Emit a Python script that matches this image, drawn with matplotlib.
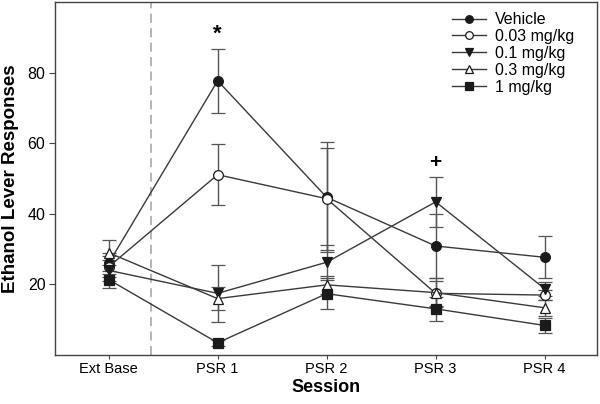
"""Ethanol lever responses across sessions by dose."""

import matplotlib

matplotlib.use("Agg")
import matplotlib.pyplot as plt
from matplotlib.lines import Line2D

plt.rcParams["font.family"] = ["Liberation Sans", "DejaVu Sans"]

SESSIONS = ["Ext Base", "PSR 1", "PSR 2", "PSR 3", "PSR 4"]
GROUPS = ["Vehicle", "0.03 mg/kg", "0.1 mg/kg", "0.3 mg/kg", "1 mg/kg"]

VEHICLE = [26.0, 77.7, 44.7, 30.9, 27.7]
VEHICLE_ERR = [3.0, 9.0, 15.6, 9.0, 6.0]
DOSE_003 = [25.0, 51.1, 44.3, 17.5, 17.0]
DOSE_003_ERR = [3.0, 8.6, 14.4, 3.5, 1.5]
DOSE_01 = [24.0, 17.5, 26.3, 43.4, 18.8]
DOSE_01_ERR = [3.0, 8.0, 5.0, 7.0, 2.0]
DOSE_03 = [29.0, 16.0, 19.9, 17.7, 13.4]
DOSE_03_ERR = [3.5, 3.2, 2.5, 4.0, 2.3]
DOSE_1 = [21.4, 3.5, 17.4, 13.1, 8.4]
DOSE_1_ERR = [2.5, 0.8, 4.3, 3.5, 2.0]

MARKERS = ["o", "o", "v", "^", "s"]
FACES = ["#1a1a1a", "white", "#1a1a1a", "white", "#1a1a1a"]


def main() -> None:
    fig = plt.figure(figsize=(6.0, 4.04), dpi=100)
    ax = fig.add_axes([0.092, 0.121, 0.903, 0.874])

    series = [
        (VEHICLE, VEHICLE_ERR),
        (DOSE_003, DOSE_003_ERR),
        (DOSE_01, DOSE_01_ERR),
        (DOSE_03, DOSE_03_ERR),
        (DOSE_1, DOSE_1_ERR),
    ]
    x = list(range(len(SESSIONS)))
    ax.axvline(0.39, color="#b0b0b0", linestyle=(0, (5, 3)), linewidth=1.3, zorder=1)

    handles = []
    for (vals, errs), name, marker, face in zip(series, GROUPS, MARKERS, FACES):
        ax.errorbar(
            x, vals, yerr=errs,
            color="#3a3a3a", ecolor="#555555", linewidth=1.0, elinewidth=1.0,
            capsize=5, capthick=1.0,
            marker=marker, markersize=7, markerfacecolor=face,
            markeredgecolor="#1a1a1a", markeredgewidth=0.9,
            zorder=3,
        )
        handles.append(
            Line2D([], [], color="#3a3a3a", linewidth=1.0, marker=marker,
                   markersize=5.5, markerfacecolor=face,
                   markeredgecolor="#1a1a1a", markeredgewidth=0.9, label=name)
        )

    ax.text(1, 91.0, "*", ha="center", va="center", fontsize=16, fontweight="bold")
    ax.text(3, 54.5, "+", ha="center", va="center", fontsize=15, fontweight="bold")

    ax.set_xlim(-0.49, 4.48)
    ax.set_ylim(0, 100)
    ax.set_xticks(x)
    ax.set_xticklabels(SESSIONS, fontsize=10.5)
    ax.set_yticks([20, 40, 60, 80])
    ax.tick_params(axis="y", labelsize=11.5, length=4, pad=3, color="#444444")
    ax.tick_params(axis="x", length=3, pad=2, color="#444444")
    for spine in ax.spines.values():
        spine.set_color("#444444")
        spine.set_linewidth(1.0)

    ax.set_xlabel("Session", fontsize=13, fontweight="bold", labelpad=2)
    ax.set_ylabel("Ethanol Lever Responses", fontsize=13.5, fontweight="bold", labelpad=6)

    ax.legend(
        handles=handles, loc="upper right", bbox_to_anchor=(0.985, 1.012),
        frameon=False, fontsize=11.5, handlelength=2.1, handletextpad=0.6,
        labelspacing=0.12,
    )

    fig.savefig("out.png", dpi=100)
    plt.close(fig)


if __name__ == "__main__":
    main()
